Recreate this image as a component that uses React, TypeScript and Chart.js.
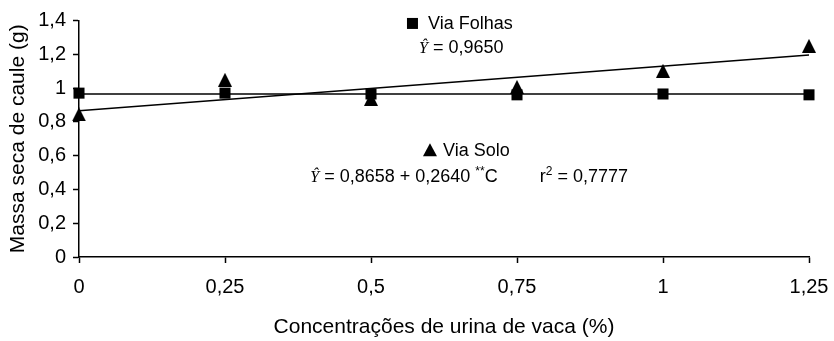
import React, { useEffect, useRef } from "react";
import { Chart, registerables } from "chart.js";

Chart.register(...registerables);

// Concentrations of cow urine (%) and stem dry mass (g)
const concentrations = [0, 0.25, 0.5, 0.75, 1, 1.25];
const viaFolhas = [0.97, 0.97, 0.965, 0.96, 0.965, 0.96];
const viaSolo = [0.844, 1.049, 0.936, 1.007, 1.102, 1.25];

// Fitted models
const folhasMean = 0.965;
const soloIntercept = 0.8658;
const soloSlope = 0.264;

const xTickLabels = ["0", "0,25", "0,5", "0,75", "1", "1,25"];
const yTickLabels = ["0", "0,2", "0,4", "0,6", "0,8", "1", "1,2", "1,4"];

const SANS = "'Liberation Sans', Arial, sans-serif";
const SERIF = "'Liberation Serif', 'Times New Roman', serif";

// Solid triangle marker, centred on its bounding box
function makeTriangle(w: number, h: number): HTMLCanvasElement {
  const c = document.createElement("canvas");
  c.width = w;
  c.height = h;
  const g = c.getContext("2d")!;
  g.fillStyle = "#000";
  g.beginPath();
  g.moveTo(0, h);
  g.lineTo(w, h);
  g.lineTo(w / 2, 0);
  g.closePath();
  g.fill();
  return c;
}

// Draws the series legends and regression equations inside the plot
const equationsPlugin = {
  id: "equations",
  afterDatasetsDraw(chart: any) {
    const { ctx, scales } = chart;
    const xs = scales.x;
    const ys = scales.y;
    const px = (v: number) => xs.getPixelForValue(v);
    const py = (v: number) => ys.getPixelForValue(v);
    ctx.save();
    ctx.fillStyle = "#000";
    ctx.textBaseline = "alphabetic";
    ctx.textAlign = "left";

    const body = `18px ${SANS}`;
    const sup = `12px ${SANS}`;
    const yhat = `italic 16px ${SERIF}`;

    // Via Folhas legend
    let x = px(0.5616);
    let y = py(1.35);
    ctx.fillRect(x, y - 11, 11, 11);
    ctx.font = body;
    ctx.fillText("Via Folhas", x + 21, y);

    // Via Folhas equation
    x = px(0.5822);
    y = py(1.21);
    ctx.font = yhat;
    ctx.fillText("\u0176", x, y);
    x += ctx.measureText("\u0176").width;
    ctx.font = body;
    ctx.fillText(" = 0,9650", x, y);

    // Via Solo legend
    x = px(0.589);
    y = py(0.597);
    ctx.beginPath();
    ctx.moveTo(x, y);
    ctx.lineTo(x + 14, y);
    ctx.lineTo(x + 7, y - 13);
    ctx.closePath();
    ctx.fill();
    ctx.font = body;
    ctx.fillText("Via Solo", x + 20, y);

    // Via Solo equation
    x = px(0.396);
    y = py(0.443);
    ctx.font = yhat;
    ctx.fillText("\u0176", x, y);
    x += ctx.measureText("\u0176").width;
    ctx.font = body;
    const part = " = 0,8658 + 0,2640 ";
    ctx.fillText(part, x, y);
    x += ctx.measureText(part).width;
    ctx.font = sup;
    ctx.fillText("**", x, y - 7);
    x += ctx.measureText("**").width;
    ctx.font = body;
    ctx.fillText("C", x, y);

    x = px(0.789);
    ctx.fillText("r", x, y);
    x += ctx.measureText("r").width;
    ctx.font = sup;
    ctx.fillText("2", x, y - 7);
    x += ctx.measureText("2").width;
    ctx.font = body;
    ctx.fillText(" = 0,7777", x, y);

    ctx.restore();
  },
};

export default function App() {
  const canvasRef = useRef<HTMLCanvasElement | null>(null);

  useEffect(() => {
    document.body.style.margin = "0";
    const canvas = canvasRef.current;
    if (!canvas) return;

    const xFirst = concentrations[0];
    const xLast = concentrations[concentrations.length - 1];
    const triangle = makeTriangle(14, 14);

    const chart = new Chart(canvas, {
      type: "scatter",
      data: {
        datasets: [
          {
            label: "Via Folhas",
            data: concentrations.map((c, i) => ({ x: c, y: viaFolhas[i] })),
            pointStyle: "rect",
            pointRadius: 7.8,
            backgroundColor: "#000",
            borderColor: "#000",
            borderWidth: 0,
            showLine: false,
            clip: false,
          },
          {
            label: "Via Solo",
            data: concentrations.map((c, i) => ({ x: c, y: viaSolo[i] })),
            pointStyle: triangle,
            pointRadius: 7,
            backgroundColor: "#000",
            borderColor: "#000",
            borderWidth: 0,
            showLine: false,
            clip: false,
          },
          {
            label: "Ajuste Via Folhas",
            data: [
              { x: xFirst, y: folhasMean },
              { x: xLast, y: folhasMean },
            ],
            showLine: true,
            pointRadius: 0,
            borderColor: "#000",
            borderWidth: 1.6,
            clip: false,
          },
          {
            label: "Ajuste Via Solo",
            data: [
              { x: xFirst, y: soloIntercept + soloSlope * xFirst },
              { x: xLast, y: soloIntercept + soloSlope * xLast },
            ],
            showLine: true,
            pointRadius: 0,
            borderColor: "#000",
            borderWidth: 1.6,
            clip: false,
          },
        ],
      },
      options: {
        animation: false,
        responsive: false,
        maintainAspectRatio: false,
        layout: { padding: { top: 20.5, right: 25, bottom: 0, left: 0 } },
        plugins: {
          legend: { display: false },
          tooltip: { enabled: false },
        },
        scales: {
          x: {
            type: "linear",
            min: 0,
            max: 1.25,
            afterBuildTicks: (scale: any) => {
              scale.ticks = concentrations.map((v) => ({ value: v }));
            },
            afterFit: (scale: any) => {
              scale.height = 84;
              scale.paddingLeft = 0;
              scale.paddingRight = 0;
            },
            ticks: {
              color: "#000",
              font: { family: SANS, size: 20 },
              padding: 12,
              maxRotation: 0,
              callback: (_v: any, i: number) => xTickLabels[i],
            },
            grid: {
              drawOnChartArea: false,
              drawTicks: true,
              tickLength: 6,
              tickColor: "#000",
              tickWidth: 1.5,
            },
            border: { display: true, color: "#000", width: 1.5 },
            title: {
              display: true,
              text: "Concentrações de urina de vaca (%)",
              color: "#000",
              font: { family: SANS, size: 21 },
              padding: { top: 0, bottom: 1 },
            },
          },
          y: {
            type: "linear",
            min: 0,
            max: 1.4,
            afterBuildTicks: (scale: any) => {
              scale.ticks = yTickLabels.map((_l, i) => ({ value: i * 0.2 }));
            },
            afterFit: (scale: any) => {
              scale.width = 79;
              scale.paddingTop = 0;
              scale.paddingBottom = 0;
            },
            ticks: {
              color: "#000",
              font: { family: SANS, size: 20 },
              padding: 7,
              callback: (_v: any, i: number) => yTickLabels[i],
            },
            grid: {
              drawOnChartArea: false,
              drawTicks: true,
              tickLength: 6,
              tickColor: "#000",
              tickWidth: 1.5,
            },
            border: { display: true, color: "#000", width: 1.5 },
            title: {
              display: true,
              text: "Massa seca de caule (g)",
              color: "#000",
              font: { family: SANS, size: 21 },
              padding: { top: 6, bottom: 0 },
            },
          },
        },
      },
      plugins: [equationsPlugin],
    });

    return () => chart.destroy();
  }, []);

  return (
    <div style={{ width: 834, height: 341, background: "#fff" }}>
      <canvas ref={canvasRef} width={834} height={341} style={{ display: "block" }} />
    </div>
  );
}
